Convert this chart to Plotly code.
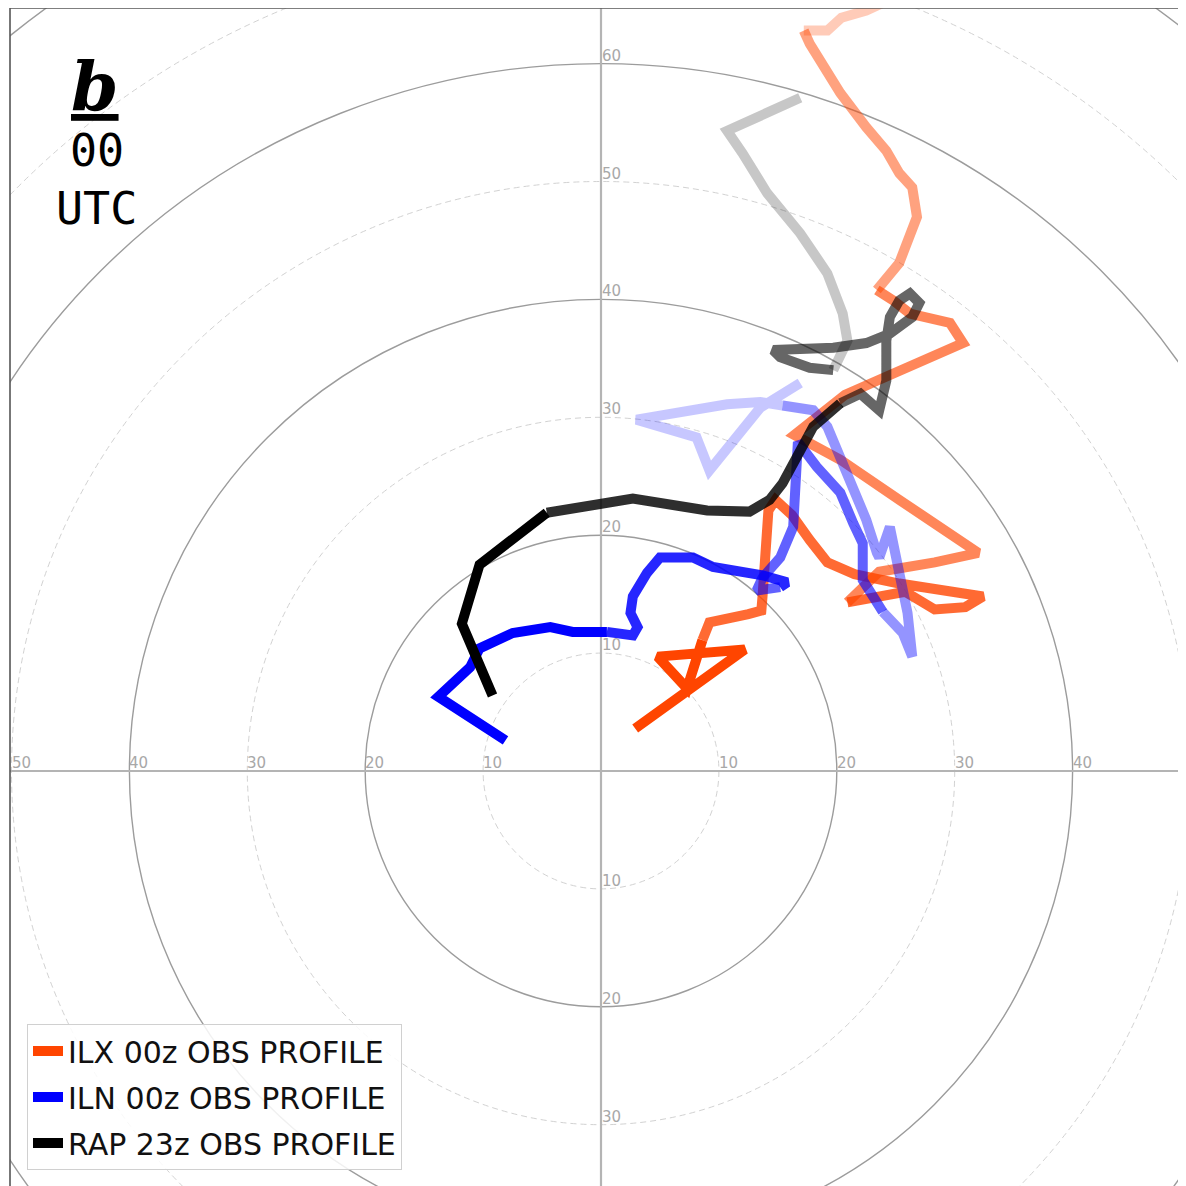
import plotly.graph_objects as go

# ---------------- data (u, v wind components, kt) ----------------
ilx_u = [2.9, 12.2, 4.8, 7.3, 8.6, 9.2, 12.5, 13.6, 13.7, 13.9, 14.2, 14.8, 16.2, 17.7, 19.2,
         21.5, 25.3, 32.4, 30.9, 28.3, 25.8, 20.9, 23.6, 28.3, 32.0, 25.3, 20.3, 16.4, 20.7,
         23.4, 30.7, 29.6, 26.2, 24.8, 23.4, 25.3, 26.8, 26.4, 25.3, 24.2, 22.5, 20.3, 17.7,
         17.2, 19.2, 20.4, 22.5, 25.3]
ilx_v = [3.6, 10.3, 9.7, 7.0, 11.1, 12.6, 13.3, 13.6, 14.8, 17.5, 22.1, 23.0, 21.7, 19.6, 17.7,
         16.7, 15.9, 14.8, 13.9, 13.7, 15.2, 14.3, 16.9, 17.7, 18.5, 23.0, 26.4, 28.5, 31.9,
         33.1, 36.3, 38.0, 38.8, 39.9, 40.8, 43.1, 47.0, 49.5, 50.7, 52.6, 54.6, 57.5, 61.7,
         62.8, 62.8, 63.9, 64.5, 65.8]

iln_u = [-8.1, -13.8, -11.1, -10.3, -7.5, -4.3, -2.4, 0.5, 2.7, 3.1, 2.5, 2.7, 3.9, 5.0, 7.8,
         9.5, 11.8, 13.7, 15.8, 15.2, 13.2, 13.7, 15.2, 16.3, 16.6, 16.7, 18.3, 20.3, 21.4,
         22.2, 22.2, 23.9, 25.6, 26.4, 26.0, 25.3, 24.5, 23.6, 23.4, 22.5, 21.4, 20.3, 19.2,
         18.0, 15.4, 13.5, 10.7, 3.0, 8.1, 9.2, 13.5, 16.9]
iln_v = [2.6, 6.3, 8.8, 10.4, 11.7, 12.2, 11.8, 11.8, 11.5, 12.2, 13.4, 14.8, 16.8, 18.1, 18.1,
         17.3, 17.0, 16.6, 16.0, 15.6, 15.3, 16.4, 18.1, 20.7, 24.4, 27.9, 25.8, 23.6, 21.0,
         19.3, 16.2, 13.5, 11.7, 9.7, 13.4, 16.8, 20.7, 18.1, 18.5, 21.3, 23.8, 26.6, 29.2,
         30.6, 31.0, 31.3, 31.1, 29.8, 28.3, 25.5, 30.8, 32.9]

rap_u = [-9.2, -11.8, -10.3, -4.6, 2.7, 9.0, 12.6, 14.3, 15.4, 18.0, 20.3, 22.0, 23.6, 24.2,
         24.2, 24.5, 25.3, 26.2, 27.0, 26.4, 24.5, 22.5, 19.7, 16.9, 14.6, 15.2, 17.7, 19.7,
         20.9, 20.5, 19.2, 16.9, 14.1, 12.0, 10.7, 16.9]
rap_v = [6.4, 12.5, 17.5, 21.9, 23.1, 22.1, 22.0, 23.0, 24.4, 29.2, 31.2, 32.0, 30.6, 33.1,
         36.5, 38.5, 39.9, 40.5, 39.7, 38.5, 37.1, 36.3, 35.9, 35.9, 35.7, 35.1, 34.2, 34.0,
         36.5, 38.8, 42.2, 45.6, 49.0, 52.4, 54.3, 57.1]

# layer boundaries (point indices) where the drawing fades with height
ilx_breaks = [0, 4, 21, 34, 43, len(ilx_u) - 1]
ilx_alpha = [1.0, 0.8, 0.65, 0.5, 0.28]
iln_breaks = [0, 7, 19, 31, 44, len(iln_u) - 1]
iln_alpha = [1.0, 0.85, 0.62, 0.42, 0.22]
rap_breaks = [0, 3, 10, 27, len(rap_u) - 1]
rap_alpha = [1.0, 0.82, 0.6, 0.22]

ring_radii = [10, 20, 30, 40, 50, 60, 70, 80]
h_labels = [-50, -40, -30, -20, -10, 10, 20, 30, 40]
v_labels = [-30, -20, -10, 10, 20, 30, 40, 50, 60]

# ---------------- figure ----------------
W, H = 1178, 1178
ML, MT = 2, 0
PW, PH = W - ML, H - MT
S = 11.79           # px per knot
CX, CY = 601 - 8, 771 - 8   # centre in figure px (page minus body margin)
x0 = -(CX - ML) / S
x1 = x0 + PW / S
y1 = (CY - MT) / S
y0 = y1 - PH / S

fig = go.Figure()


def add_profile(name, u, v, rgb, breaks, alphas):
    for i, a in enumerate(alphas):
        s, e = breaks[i], breaks[i + 1]
        fig.add_trace(go.Scatter(
            x=u[s:e + 1], y=v[s:e + 1], mode='lines',
            line=dict(color=f'rgba({rgb},{a})', width=10),
            name=name, legendgroup=name, showlegend=(i == 0),
            hoverinfo='skip'))


add_profile('ILX 00z OBS PROFILE', ilx_u, ilx_v, '255,69,0', ilx_breaks, ilx_alpha)
add_profile('ILN 00z OBS PROFILE', iln_u, iln_v, '0,0,255', iln_breaks, iln_alpha)
add_profile('RAP 23z OBS PROFILE', rap_u, rap_v, '0,0,0', rap_breaks, rap_alpha)

shapes = []
for r in ring_radii:
    solid = (r % 20 == 0)
    shapes.append(dict(
        type='circle', xref='x', yref='y', x0=-r, x1=r, y0=-r, y1=r, layer='below',
        line=dict(color='#9c9c9c' if solid else '#d2d2d2', width=1.4 if solid else 1,
                  dash='solid' if solid else '6px,4px')))
# axes through origin
shapes.append(dict(type='line', xref='x', yref='y', x0=x0, x1=x1, y0=0, y1=0, layer='below',
                   line=dict(color='#b4b4b4', width=2.2)))
shapes.append(dict(type='line', xref='x', yref='y', x0=0, x1=0, y0=y0, y1=y1, layer='below',
                   line=dict(color='#b4b4b4', width=2.2)))
# frame (top / left)
shapes.append(dict(type='line', xref='paper', yref='paper', x0=0, x1=1, y0=1, y1=1,
                   line=dict(color='#555555', width=1.6)))
shapes.append(dict(type='line', xref='paper', yref='paper', x0=0, x1=0, y0=0, y1=1,
                   line=dict(color='#555555', width=1.6)))

annotations = []
lab_font = dict(family='DejaVu Sans', size=15, color='#a8a8a8')
for r in h_labels:
    annotations.append(dict(x=r, y=0, xref='x', yref='y', text=str(abs(r)), showarrow=False,
                            xanchor='left', yanchor='bottom', font=lab_font, xshift=-2, yshift=-3))
for r in v_labels:
    annotations.append(dict(x=0, y=r, xref='x', yref='y', text=str(abs(r)), showarrow=False,
                            xanchor='left', yanchor='bottom', font=lab_font, xshift=-1, yshift=-3))


def px_to_paper(px, py):
    return (px - 8 - ML) / PW, 1 - (py - 8 - MT) / PH


bx, by = px_to_paper(95, 86)
annotations.append(dict(x=bx, y=by, xref='paper', yref='paper', showarrow=False,
                        text='<b><i><u>b</u></i></b>', xanchor='center', yanchor='middle',
                        font=dict(family='DejaVu Serif', size=68, color='black')))
zx, zy = px_to_paper(97, 150)
annotations.append(dict(x=zx, y=zy, xref='paper', yref='paper', showarrow=False,
                        text='00', xanchor='center', yanchor='middle',
                        font=dict(family='DejaVu Sans Mono', size=45, color='black')))
ux, uy = px_to_paper(96, 208)
annotations.append(dict(x=ux, y=uy, xref='paper', yref='paper', showarrow=False,
                        text='UTC', xanchor='center', yanchor='middle',
                        font=dict(family='DejaVu Sans Mono', size=45, color='black')))

lx, ly = px_to_paper(27, 1170)
fig.update_layout(
    width=W, height=H,
    margin=dict(l=ML, r=0, t=MT, b=0, pad=0),
    paper_bgcolor='white', plot_bgcolor='white',
    xaxis=dict(range=[x0, x1], showgrid=False, zeroline=False, showticklabels=False,
               ticks='', showline=False, fixedrange=True),
    yaxis=dict(range=[y0, y1], showgrid=False, zeroline=False, showticklabels=False,
               ticks='', showline=False, fixedrange=True),
    shapes=shapes, annotations=annotations,
    showlegend=True,
    legend=dict(x=lx, y=ly, xanchor='left', yanchor='bottom',
                font=dict(family='DejaVu Sans', size=30, color='#111111'),
                bgcolor='rgba(255,255,255,0.85)', bordercolor='#d0d0d0', borderwidth=1,
                itemwidth=30, tracegroupgap=4, traceorder='grouped'),
)

fig.write_html('out.html')
